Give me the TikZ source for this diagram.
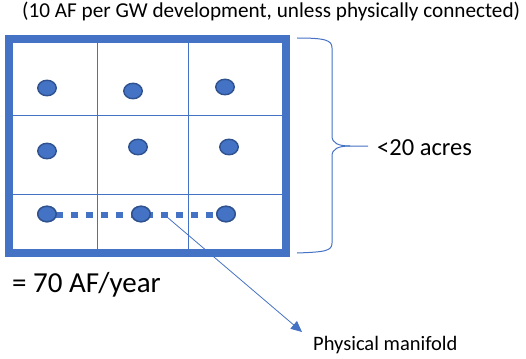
\documentclass[tikz,border=0pt]{standalone}
\usepackage{fontspec}
\setmainfont{Carlito}
\usetikzlibrary{arrows.meta,shapes.geometric}
\definecolor{mblue}{HTML}{4472C4}
\definecolor{dblue}{HTML}{2F528F}
\begin{document}
\begin{tikzpicture}[x=1pt,y=-1pt,
  well/.style={ellipse,draw=dblue,fill=mblue,line width=1.4pt,minimum width=18.5pt,minimum height=15.5pt,inner sep=0pt},
  grid/.style={mblue,line width=1pt},
  lbl/.style={anchor=base west,inner sep=0pt,text=black}]
\useasboundingbox (0,0) rectangle (526,358);
% grid
\draw[grid] (97,43) -- (97,249);
\draw[grid] (188,43) -- (188,249);
\draw[grid] (13,116) -- (282,116);
\draw[grid] (13,194) -- (282,194);
\draw[mblue,line width=8pt] (9,39) rectangle (286,253);
% dotted manifold
\node[well] (d31) at (47,214) {};
\node[well] (d32) at (141,214) {};
\node[well] (d33) at (226,214) {};
\draw[mblue,line width=6.5pt,dash pattern=on 6.5pt off 8.5pt] (d31.center) ++(9,1) coordinate (m0) -- (219,215) coordinate (m1);
\node[well] at (d31) {};
\node[well] at (d32) {};
\node[well] at (d33) {};
\node[well] (d11) at (47,88) {};
\node[well] (d12) at (133,91) {};
\node[well] (d13) at (225,87) {};
\node[well] (d21) at (47,151) {};
\node[well] (d22) at (138,147) {};
\node[well] (d23) at (229,147) {};
% arrow
\coordinate (a0) at (167,217);
\coordinate (a1) at (302,332);
\draw[mblue,line width=0.8pt,-{Triangle[length=11pt,width=10pt]}] (a0) -- (a1);
% brace
\draw[mblue,line width=1pt] (297,38) .. controls (325,38) and (332,40) .. (332,48)
  -- (332,136) .. controls (332,143) and (338,146) .. (350,146) -- (368,146);
\draw[mblue,line width=1pt] (350,146) .. controls (338,146) and (332,149) .. (332,156)
  -- (332,243) .. controls (332,251) and (325,252) .. (297,253);
% texts
\node[lbl,font=\fontsize{21.2}{24}\selectfont] (top) at (22,18) {(10 AF per GW development, unless physically connected)};
\node[lbl,font=\fontsize{24.5}{28}\selectfont] (acres) at (377,155) {<20 acres};
\node[lbl,font=\fontsize{29}{32}\selectfont] (af) at (12,292) {= 70 AF/year};
\node[lbl,font=\fontsize{20.5}{24}\selectfont] (pm) at (313,350) {Physical manifold};
\end{tikzpicture}
\end{document}
